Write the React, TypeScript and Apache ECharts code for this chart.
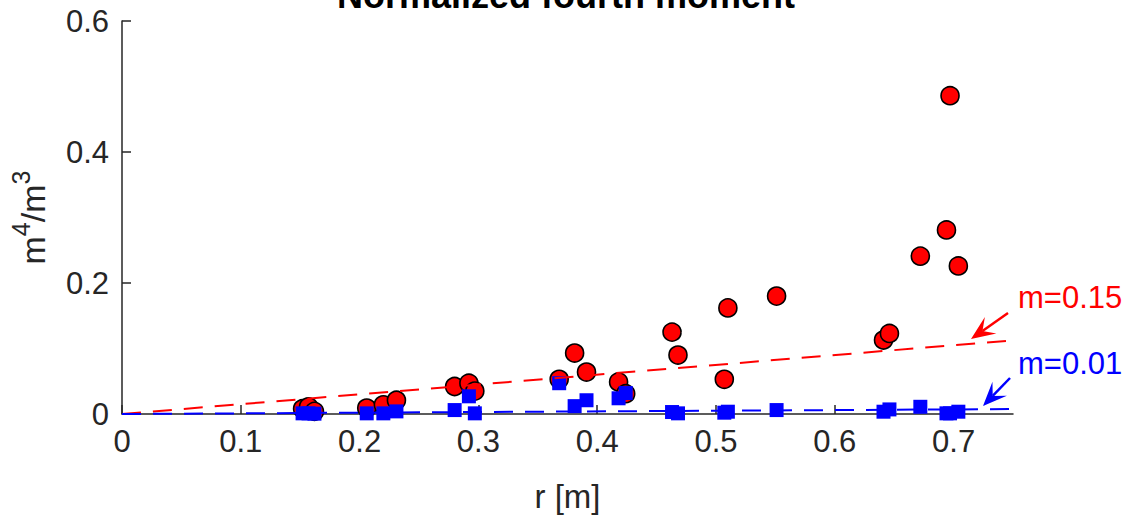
import React, { useEffect, useRef } from "react";
import * as echarts from "echarts";

const rValues = [0.152, 0.157, 0.162, 0.206, 0.22, 0.231, 0.28, 0.292, 0.297, 0.368, 0.381, 0.391, 0.418, 0.424, 0.463, 0.468, 0.507, 0.51, 0.551, 0.641, 0.646, 0.672, 0.694, 0.697, 0.704];
const redValues = [0.008, 0.011, 0.004, 0.009, 0.014, 0.021, 0.042, 0.047, 0.035, 0.053, 0.093, 0.064, 0.049, 0.031, 0.125, 0.09, 0.053, 0.162, 0.18, 0.113, 0.123, 0.241, 0.281, 0.486, 0.226];
const blueValues = [0.001, 0.001, 0.0005, 0.001, 0.001, 0.004, 0.006, 0.027, 0.001, 0.047, 0.012, 0.021, 0.024, 0.032, 0.003, 0.001, 0.002, 0.0035, 0.006, 0.0035, 0.007, 0.011, 0.001, 0.001, 0.0035];
const lineR = [0, 0.75];
const lineRed = [0, 0.1125];
const lineBlue = [0, 0.0075];
const xTicks = [0, 0.1, 0.2, 0.3, 0.4, 0.5, 0.6, 0.7];
const yTicks = [0, 0.2, 0.4, 0.6];

const FONT = "Liberation Sans";
const AX = "#262626";

function arrow(tail: number[], tip: number[], color: string) {
  const dx = tip[0] - tail[0];
  const dy = tip[1] - tail[1];
  const len = Math.hypot(dx, dy);
  const ux = dx / len, uy = dy / len;
  const nx = -uy, ny = ux;
  const L = 24, W = 10, N = 14;
  const bx = tip[0] - ux * L, by = tip[1] - uy * L;
  const notch = [tip[0] - ux * N, tip[1] - uy * N];
  return [
    { type: "line", shape: { x1: tail[0], y1: tail[1], x2: notch[0], y2: notch[1] }, style: { stroke: color, lineWidth: 2.5 }, z: 100 },
    { type: "polygon", shape: { points: [tip, [bx + nx * W, by + ny * W], notch, [bx - nx * W, by - ny * W]] }, style: { fill: color }, z: 100 },
  ];
}

export default function App() {
  const ref = useRef<HTMLDivElement>(null);
  useEffect(() => {
    const chart = echarts.init(ref.current!, undefined, { renderer: "svg" });
    const pts = (ys: number[]) => rValues.map((r, i) => [r, ys[i]]);
    chart.setOption({
      animation: false,
      backgroundColor: "#ffffff",
      textStyle: { fontFamily: FONT },
      grid: { left: 120, right: 114, top: 21, bottom: 104 },
      xAxis: {
        type: "value", min: 0, max: 0.75, interval: 0.1,
        name: "r [m]", nameLocation: "middle", nameGap: 66,
        nameTextStyle: { fontSize: 33, color: AX, fontFamily: FONT },
        axisLine: { onZero: false, lineStyle: { color: AX, width: 1.5 } },
        axisTick: { inside: true, length: 9, customValues: xTicks, lineStyle: { color: AX, width: 1.5 } },
        axisLabel: { customValues: xTicks, fontSize: 31, color: AX, margin: 12, fontFamily: FONT, formatter: (v: number) => String(Math.round(v * 10) / 10) },
        splitLine: { show: false },
      },
      yAxis: {
        type: "value", min: 0, max: 0.6, interval: 0.2,
        name: "{a|m}{s|4}{a|/m}{s|3}", nameLocation: "middle", nameGap: 72,
        nameTextStyle: {
          rich: {
            a: { fontSize: 34, color: AX, fontFamily: FONT, verticalAlign: "bottom" },
            s: { fontSize: 25, color: AX, fontFamily: FONT, verticalAlign: "top", padding: [0, 0, 17, 0] },
          },
        },
        axisLine: { onZero: false, lineStyle: { color: AX, width: 1.5 } },
        axisTick: { inside: true, length: 9, customValues: yTicks, lineStyle: { color: AX, width: 1.5 } },
        axisLabel: { customValues: yTicks, fontSize: 31, color: AX, margin: 13, fontFamily: FONT, formatter: (v: number) => String(Math.round(v * 10) / 10) },
        splitLine: { show: false },
      },
      series: [
        {
          type: "scatter", name: "m4 red", data: pts(redValues), symbol: "circle", symbolSize: 18,
          itemStyle: { color: "#ff0000", borderColor: "#000000", borderWidth: 1.6, opacity: 1 }, z: 3,
        },
        {
          type: "scatter", name: "m4 blue", data: pts(blueValues), symbol: "rect", symbolSize: 14,
          itemStyle: { color: "#0000ff", opacity: 1 }, z: 4,
        },
        {
          type: "line", data: lineR.map((r, i) => [r, lineRed[i]]), symbol: "none",
          lineStyle: { color: "#ff0000", width: 2, type: [19, 12] }, z: 5,
        },
        {
          type: "line", data: lineR.map((r, i) => [r, lineBlue[i]]), symbol: "none",
          lineStyle: { color: "#0000ff", width: 2, type: [19, 12] }, z: 5,
        },
      ],
      graphic: [
        {
          type: "text", x: 566, y: 13,
          style: { text: "Normalized fourth moment", font: `bold 36px "${FONT}"`, fill: "#000000", textAlign: "center", textVerticalAlign: "bottom" },
          z: 100,
        },
        { type: "text", x: 1018, y: 297, style: { text: "m=0.15", font: `31px "${FONT}"`, fill: "#ff0000", textAlign: "left", textVerticalAlign: "middle" }, z: 100 },
        { type: "text", x: 1018, y: 363, style: { text: "m=0.01", font: `31px "${FONT}"`, fill: "#0000ff", textAlign: "left", textVerticalAlign: "middle" }, z: 100 },
        ...arrow([1008, 313], [971, 339], "#ff0000"),
        ...arrow([1010, 378], [983, 406], "#0000ff"),
      ],
    });
    return () => chart.dispose();
  }, []);
  return <div ref={ref} style={{ position: "fixed", left: 0, top: 0, width: 1127, height: 518 }} />;
}
